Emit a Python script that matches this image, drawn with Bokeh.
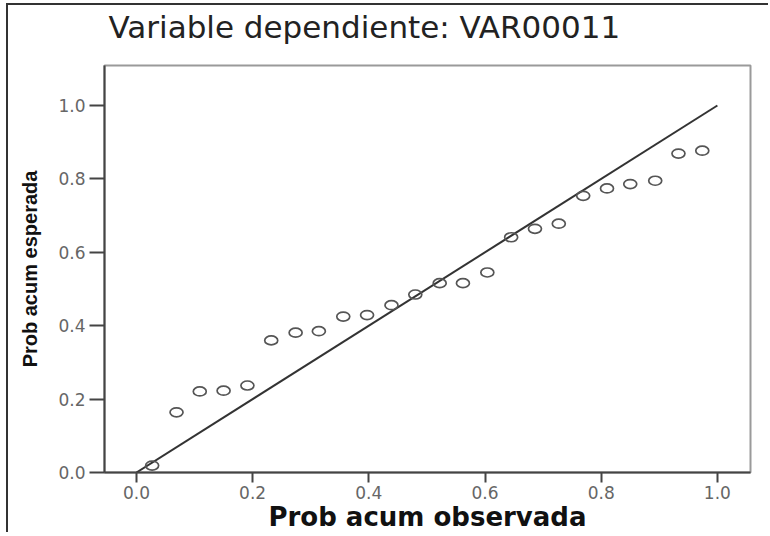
from bokeh.plotting import figure
from bokeh.models import FixedTicker, Title
from bokeh.embed import file_html
from bokeh.resources import INLINE

# Data
prob_obs = [0.027, 0.069, 0.109, 0.150, 0.191, 0.232, 0.274, 0.314, 0.356, 0.397,
            0.439, 0.480, 0.522, 0.562, 0.604, 0.645, 0.686, 0.727, 0.769, 0.810,
            0.850, 0.893, 0.933, 0.974]
prob_exp = [0.019, 0.164, 0.221, 0.223, 0.237, 0.360, 0.381, 0.385, 0.425, 0.429,
            0.456, 0.485, 0.516, 0.516, 0.545, 0.641, 0.664, 0.678, 0.754, 0.774,
            0.786, 0.795, 0.869, 0.877]
ref_line_x = [0.0, 1.0]
ref_line_y = [0.0, 1.0]
tick_values = [0.0, 0.2, 0.4, 0.6, 0.8, 1.0]
tick_labels = ["0.0", "0.2", "0.4", "0.6", "0.8", "1.0"]
title_text = "Variable dependiente: VAR00011"
x_label = "Prob acum observada"
y_label = "Prob acum esperada"

p = figure(width=762, height=529, output_backend="svg", toolbar_location=None, title=None,
           x_range=(-0.055, 1.057), y_range=(0.0, 1.109),
           min_border_left=96, min_border_right=20, min_border_top=60, min_border_bottom=40)
p.styles = {"border-left": "2px solid #333", "border-top": "2px solid #333",
            "margin-left": "6px", "margin-top": "3px"}

# spacer panel between frame and title, then the title itself
spacer = Title(text=" ", text_font_size="10px", standoff=8)
p.add_layout(spacer, "above")
main_title = Title(text=title_text, text_font="DejaVu Sans", text_font_size="31px",
                   text_font_style="normal", text_color="#222222", align="left",
                   offset=4, standoff=0)
p.add_layout(main_title, "above")

p.xgrid.visible = False
p.ygrid.visible = False
p.outline_line_color = "#9a9a9a"
p.outline_line_width = 2
p.background_fill_color = "white"
p.border_fill_color = "white"

labels = dict(zip(tick_values, tick_labels))
for ax, tick_out in ((p.xaxis[0], 10), (p.yaxis[0], 15)):
    ax.ticker = FixedTicker(ticks=tick_values)
    ax.major_label_overrides = labels
    ax.minor_tick_line_color = None
    ax.major_tick_in = 0
    ax.major_tick_out = tick_out
    ax.major_tick_line_color = "#444444"
    ax.major_tick_line_width = 2
    ax.axis_line_color = "#444444"
    ax.axis_line_width = 2
    ax.major_label_text_font = "DejaVu Sans"
    ax.major_label_text_font_size = "17px"
    ax.major_label_text_color = "#666666"

p.xaxis.major_label_standoff = 3
p.yaxis.major_label_standoff = 4
p.xaxis.axis_label = x_label
p.xaxis.axis_label_text_font = "DejaVu Sans"
p.xaxis.axis_label_text_font_style = "bold"
p.xaxis.axis_label_text_font_size = "26px"
p.xaxis.axis_label_text_color = "#111111"
p.xaxis.axis_label_standoff = 0
p.yaxis.axis_label = y_label
p.yaxis.axis_label_text_font = "Liberation Sans"
p.yaxis.axis_label_text_font_style = "bold"
p.yaxis.axis_label_text_font_size = "20px"
p.yaxis.axis_label_text_color = "#111111"
p.yaxis.axis_label_standoff = 14

p.line(ref_line_x, ref_line_y, line_color="#333333", line_width=2)
p.ellipse(prob_obs, prob_exp, width=13, height=9, width_units="screen", height_units="screen",
          fill_color=None, line_color="#555555", line_width=1.7)

open("out.html", "w").write(file_html(p, INLINE))
